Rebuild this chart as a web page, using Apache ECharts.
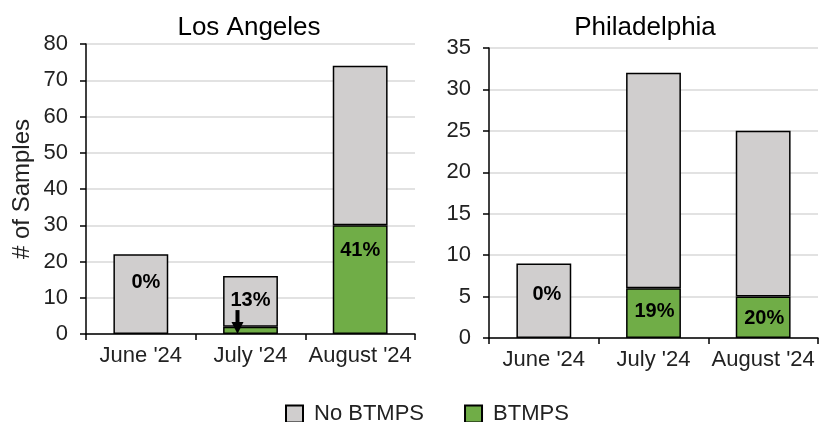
<!DOCTYPE html>
<html>
<head>
<meta charset="utf-8">
<script src="https://cdn.jsdelivr.net/npm/echarts@6/dist/echarts.min.js"></script>
<style>
  html, body { margin: 0; padding: 0; background: #fff; }
  #main { width: 819px; height: 422px; }
</style>
</head>
<body>
<div id="main"></div>
<script>
// data
var months = ["June '24", "July '24", "August '24"];
var laNoBtmps = [22, 14, 44];
var laBtmps = [0, 2, 30];
var laPct = ['0%', '13%', '41%'];
var phNoBtmps = [9, 26, 20];
var phBtmps = [0, 6, 5];
var phPct = ['0%', '19%', '20%'];
var laMax = 80, laStep = 10;
var phMax = 35, phStep = 5;

var FONT = "'Liberation Sans', Arial, sans-serif";
var GRAY = '#d0cece';
var GREEN = '#70ad47';

var myChart = echarts.init(document.getElementById('main'));

function pctLabel(text, offset) {
    return {
        show: true,
        position: 'inside',
        formatter: text,
        offset: offset,
        color: '#000',
        fontFamily: FONT,
        fontSize: 20,
        fontWeight: 'bold'
    };
}

// where each percentage label sits (on which segment, nudge in px)
var laLabelOn = ['no', 'no', 'yes'];
var laOffsets = [[5, -12], [0, -1], [0, -29]];
var phLabelOn = ['no', 'yes', 'yes'];
var phOffsets = [[3, -6], [1, -2], [1, 1]];

function buildData(values, pct, on, offsets, which) {
    return values.map(function (v, i) {
        var item = { value: v };
        if (v === 0) item.itemStyle = { borderWidth: 0 };   // no sliver for empty segments
        if (on[i] === which) item.label = pctLabel(pct[i], offsets[i]);
        return item;
    });
}

function xAxisCfg(idx) {
    return {
        type: 'category',
        gridIndex: idx,
        data: months,
        axisLine: { lineStyle: { color: '#000', width: 1.5 } },
        axisTick: { show: true, length: 6, lineStyle: { color: '#000', width: 1.5 } },
        axisLabel: { interval: 0, color: '#222', fontFamily: FONT, fontSize: 22, margin: 11 },
        splitLine: { show: false }
    };
}

function yAxisCfg(idx, max, step) {
    return {
        type: 'value',
        gridIndex: idx,
        min: 0,
        max: max,
        interval: step,
        axisLine: { show: true, lineStyle: { color: '#000', width: 1.5 } },
        axisTick: { show: true, length: 6, lineStyle: { color: '#000', width: 1.5 } },
        axisLabel: { color: '#222', fontFamily: FONT, fontSize: 22, margin: 18 },
        splitLine: { show: true, lineStyle: { color: '#d9d9d9', width: 1.5 } }
    };
}

var barBorder = { borderColor: '#000', borderWidth: 1.5 };

var option = {
    animation: false,
    backgroundColor: '#fff',
    title: [
        { text: 'Los Angeles', left: 244, top: 10, textAlign: 'center',
          textStyle: { fontFamily: FONT, fontSize: 26, fontWeight: 'normal', color: '#000' } },
        { text: 'Philadelphia', left: 640, top: 10, textAlign: 'center',
          textStyle: { fontFamily: FONT, fontSize: 26, fontWeight: 'normal', color: '#000' } }
    ],
    legend: {
        data: ['No BTMPS', 'BTMPS'],
        left: 285,
        top: 403,
        padding: 0,
        icon: 'rect',
        itemWidth: 17,
        itemHeight: 17,
        itemGap: 40,
        textStyle: { fontFamily: FONT, fontSize: 22, color: '#222', padding: [0, 0, 0, 6] }
    },
    grid: [
        { left: 86, top: 44, width: 329, height: 290 },
        { left: 489, top: 48, width: 329, height: 290 }
    ],
    xAxis: [xAxisCfg(0), xAxisCfg(1)],
    yAxis: [
        Object.assign(yAxisCfg(0, laMax, laStep), {
            name: '# of Samples',
            nameLocation: 'middle',
            nameGap: 52,
            nameTextStyle: { fontFamily: FONT, fontSize: 24, color: '#222' }
        }),
        yAxisCfg(1, phMax, phStep)
    ],
    series: [
        { name: 'BTMPS', type: 'bar', stack: 'la', xAxisIndex: 0, yAxisIndex: 0, barWidth: '50%',
          itemStyle: Object.assign({ color: GREEN }, barBorder),
          data: buildData(laBtmps, laPct, laLabelOn, laOffsets, 'yes') },
        { name: 'No BTMPS', type: 'bar', stack: 'la', xAxisIndex: 0, yAxisIndex: 0, barWidth: '50%',
          itemStyle: Object.assign({ color: GRAY }, barBorder),
          data: buildData(laNoBtmps, laPct, laLabelOn, laOffsets, 'no') },
        { name: 'BTMPS', type: 'bar', stack: 'ph', xAxisIndex: 1, yAxisIndex: 1, barWidth: '50%',
          itemStyle: Object.assign({ color: GREEN }, barBorder),
          data: buildData(phBtmps, phPct, phLabelOn, phOffsets, 'yes') },
        { name: 'No BTMPS', type: 'bar', stack: 'ph', xAxisIndex: 1, yAxisIndex: 1, barWidth: '50%',
          itemStyle: Object.assign({ color: GRAY }, barBorder),
          data: buildData(phNoBtmps, phPct, phLabelOn, phOffsets, 'no') }
    ]
};

myChart.setOption(option);

// little arrow pointing at the thin green July segment (LA)
var top_ = myChart.convertToPixel({ xAxisIndex: 0, yAxisIndex: 0 }, [months[1], 6.6]);
var bot_ = myChart.convertToPixel({ xAxisIndex: 0, yAxisIndex: 0 }, [months[1], 0]);
var ax = top_[0] - 13;
var headTop = bot_[1] - 12;
myChart.setOption({
    graphic: [
        { type: 'line', shape: { x1: ax, y1: top_[1], x2: ax, y2: headTop + 1 },
          style: { stroke: '#000', lineWidth: 4 }, z: 100 },
        { type: 'polygon', shape: { points: [[ax - 6, headTop], [ax + 6, headTop], [ax, bot_[1]]] },
          style: { fill: '#000' }, z: 100 }
    ]
});
</script>
</body>
</html>
